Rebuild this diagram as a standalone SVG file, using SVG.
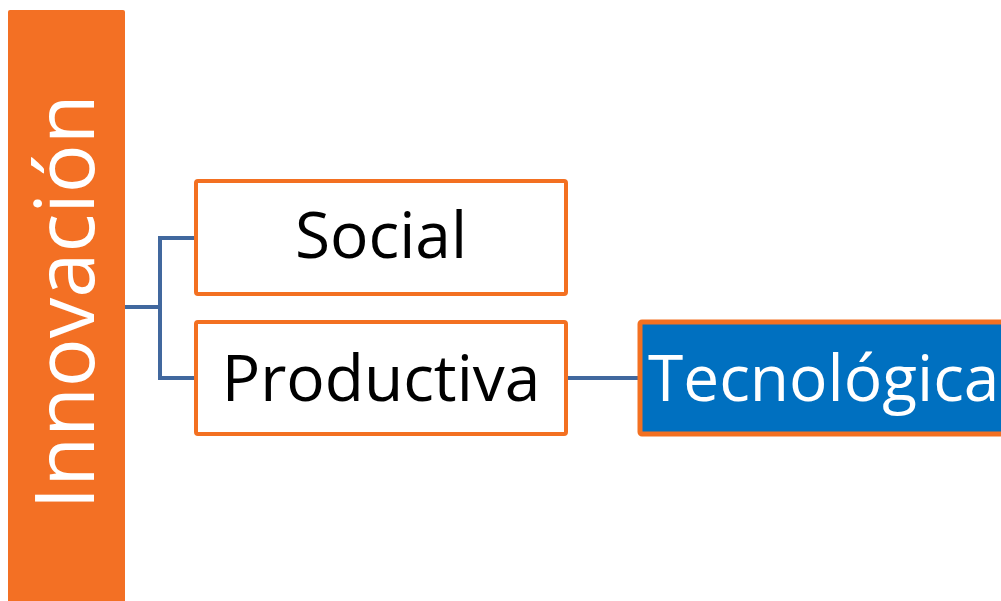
<svg xmlns="http://www.w3.org/2000/svg" width="1001" height="601" viewBox="0 0 1001 601">
<style>
.box{fill:#fff;stroke:#F37021;stroke-width:4}
.lbl{font-family:"Open Sans","Noto Sans",sans-serif;font-size:64px;fill:#000}
.conn{fill:none;stroke:#41689E;stroke-width:4}
</style>
<rect width="1001" height="601" fill="#fff"/>
<g id="connectors">
<polyline class="conn" points="125,307 160,307"/>
<polyline class="conn" points="196,238 160,238 160,378 196,378"/>
<line class="conn" x1="566" y1="378" x2="640" y2="378"/>
</g>
<g id="innovacion">
<rect x="8" y="10" width="117" height="600" rx="2" fill="#F37024"/>
<text transform="translate(94,302) rotate(-90)" text-anchor="middle" font-family="Open Sans, Noto Sans, sans-serif" font-size="82" fill="#fff" textLength="415" lengthAdjust="spacingAndGlyphs">Innovación</text>
</g>
<g id="social">
<rect class="box" x="196" y="181" width="370" height="113" rx="2"/>
<text class="lbl" x="381" y="258" text-anchor="middle">Social</text>
</g>
<g id="productiva">
<rect class="box" x="196" y="322" width="370" height="112" rx="2"/>
<text class="lbl" x="381" y="401" text-anchor="middle">Productiva</text>
</g>
<g id="tecnologica">
<rect x="640" y="322" width="400" height="112" rx="2" fill="#0070C0" stroke="#F37021" stroke-width="5"/>
<text class="lbl" x="648" y="401" style="fill:#fff">Tecnológica</text>
</g>
</svg>
